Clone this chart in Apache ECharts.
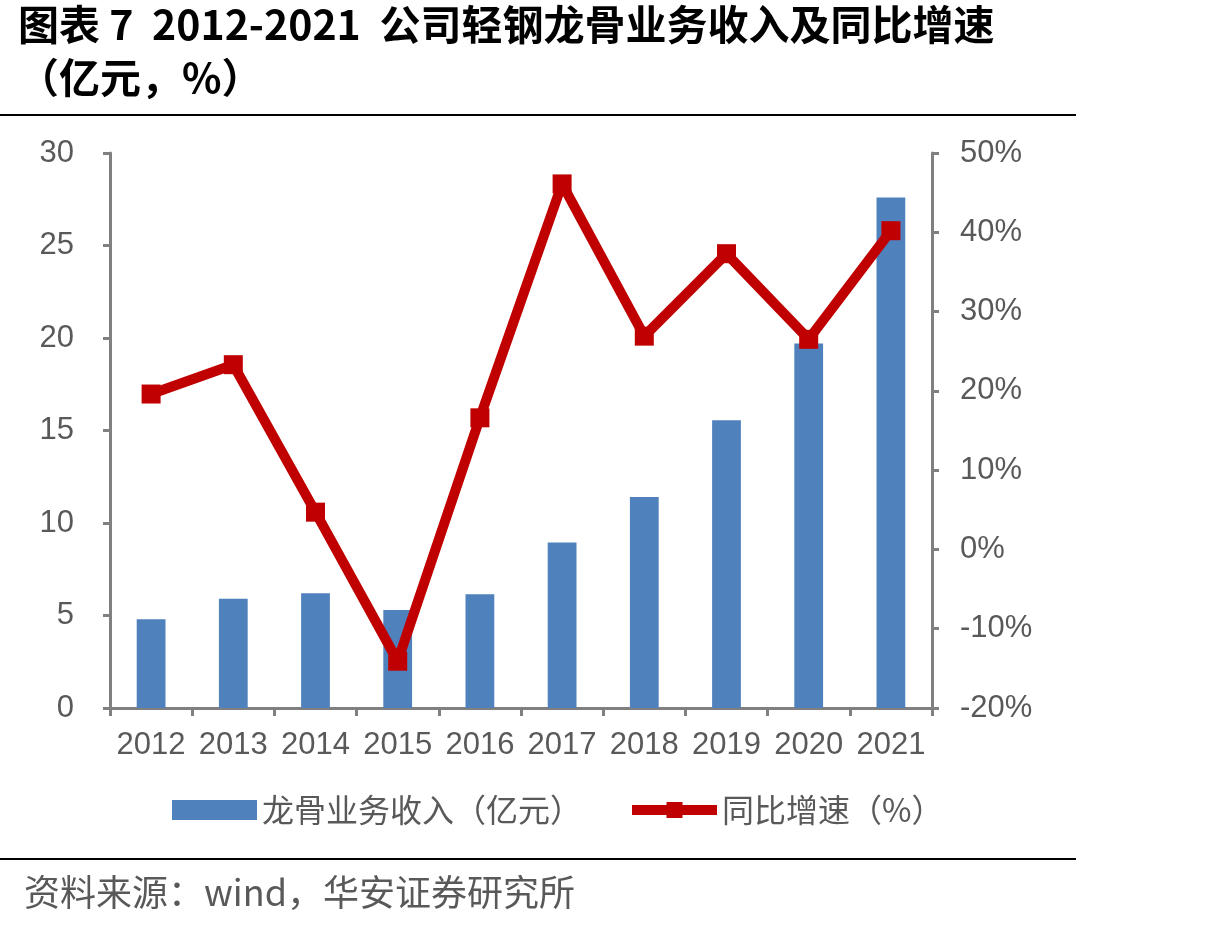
<!DOCTYPE html>
<html>
<head>
<meta charset="utf-8">
<script src="https://cdn.jsdelivr.net/npm/echarts@6/dist/echarts.min.js"></script>
<style>
  html, body { margin: 0; padding: 0; background: #fff; }
  #main { width: 1232px; height: 931px; }
</style>
</head>
<body>
<div id="main"></div>
<script>
// 数据
const years = ['2012', '2013', '2014', '2015', '2016', '2017', '2018', '2019', '2020', '2021'];
const revenue = [4.8, 5.9, 6.2, 5.3, 6.15, 8.95, 11.4, 15.55, 19.7, 27.6];
const growth = [19.6, 23.3, 4.7, -14.1, 16.6, 46.1, 26.9, 37.3, 26.5, 40.2];
const barName = '龙骨业务收入（亿元）';
const lineName = '同比增速（%）';

const cjk = '"Noto Sans CJK SC", sans-serif';
const latin = '"Liberation Sans", Arial, "Noto Sans CJK SC", sans-serif';
const gray = '#595959';
const axisGray = '#808080';

const chart = echarts.init(document.getElementById('main'));
chart.setOption({
    backgroundColor: '#fff',
    animation: false,
    textStyle: { fontFamily: latin, color: gray },
    grid: { left: 110, right: 300, top: 153, bottom: 223, containLabel: false },
    legend: {
        left: 167,
        top: 789,
        itemWidth: 85,
        itemHeight: 20,
        itemGap: 45,
        textStyle: { fontFamily: cjk, fontSize: 32, color: gray },
        data: [
            { name: barName, icon: 'rect' },
            { name: lineName, lineStyle: { width: 10 } }
        ]
    },
    xAxis: {
        type: 'category',
        data: years,
        axisLine: { lineStyle: { color: axisGray, width: 3 } },
        axisTick: { show: true, length: 8, lineStyle: { color: axisGray, width: 3 } },
        axisLabel: { interval: 0, fontSize: 31, color: gray, margin: 22, fontFamily: latin }
    },
    yAxis: [
        {
            type: 'value',
            min: 0, max: 30, interval: 5,
            splitLine: { show: false },
            axisLine: { show: true, lineStyle: { color: axisGray, width: 3 } },
            axisTick: { show: true, length: 7, lineStyle: { color: axisGray, width: 3 } },
            axisLabel: { fontSize: 31, color: gray, margin: 36, fontFamily: latin }
        },
        {
            type: 'value',
            min: -20, max: 50, interval: 10,
            splitLine: { show: false },
            axisLine: { show: true, lineStyle: { color: axisGray, width: 3 } },
            axisTick: { show: true, length: 7, lineStyle: { color: axisGray, width: 3 } },
            axisLabel: { fontSize: 31, color: gray, margin: 28, fontFamily: latin, formatter: '{value}%' }
        }
    ],
    series: [
        {
            name: barName,
            type: 'bar',
            data: revenue,
            barWidth: '35%',
            itemStyle: { color: '#4F81BD' }
        },
        {
            name: lineName,
            type: 'line',
            yAxisIndex: 1,
            data: growth,
            symbol: 'rect',
            symbolSize: 19,
            lineStyle: { color: '#C00000', width: 10 },
            itemStyle: { color: '#C00000' }
        }
    ],
    graphic: [
        { type: 'text', left: 18, top: 4, style: { text: '图表 7  2012-2021  公司轻钢龙骨业务收入及同比增速', font: 'bold 41px "Noto Sans CJK SC"', fill: '#000' } },
        { type: 'text', left: 18, top: 57, style: { text: '（亿元，%）', font: 'bold 41px "Noto Sans CJK SC"', fill: '#000' } },
        { type: 'rect', shape: { x: 0, y: 114, width: 1076, height: 2 }, style: { fill: '#000' } },
        { type: 'rect', shape: { x: 0, y: 858, width: 1076, height: 2 }, style: { fill: '#000' } },
        { type: 'text', left: 24, top: 874, style: { text: '资料来源：wind，华安证券研究所', font: '36px "Noto Sans CJK SC"', fill: gray } }
    ]
});

window.addEventListener('resize', function () {
    chart.resize();
});
</script>
</body>
</html>
